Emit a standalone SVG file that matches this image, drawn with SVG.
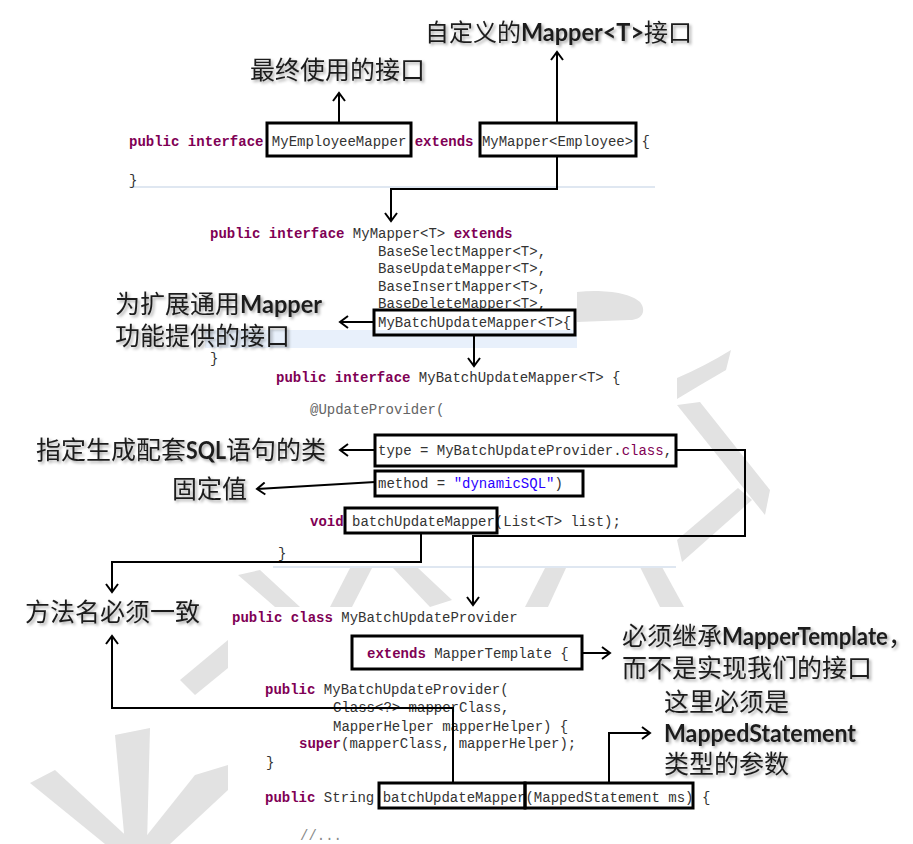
<svg xmlns="http://www.w3.org/2000/svg" width="913" height="844" viewBox="0 0 913 844">
<defs>
<style>
.code{font-family:"Liberation Mono","DejaVu Sans Mono",monospace;font-size:14px;fill:#333;}
.kw{fill:#7f0055;font-weight:bold;}
.str{fill:#2a00ff;}
.ann{fill:#646464;}
.cmt{fill:#8a8a8a;}
.lbl{font-family:"Noto Sans CJK SC","Noto Sans",sans-serif;font-size:25px;fill:#1e1e1e;filter:url(#sh);}
.lat{font-family:Lato,"Open Sans",sans-serif;font-weight:bold;}
.box{fill:none;stroke:#000;stroke-width:3;}
.con{fill:none;stroke:#000;stroke-width:2;marker-end:url(#ah);}
.wm{fill:#e2e2e2;}
.panel{fill:#fff;}
.sep{stroke:#dfe7f1;stroke-width:2;}
</style>
<filter id="sh" x="-10%" y="-30%" width="130%" height="170%">
<feDropShadow dx="2" dy="2" stdDeviation="1.5" flood-color="#000" flood-opacity="0.35"/>
</filter>
<marker id="ah" viewBox="-10 -7 12 14" markerWidth="12" markerHeight="14" refX="0" refY="0" orient="auto" markerUnits="userSpaceOnUse">
<path d="M-8,-6 L0,0 L-8,6" fill="none" stroke="#000" stroke-width="2"/>
</marker>
</defs>
<rect width="913" height="844" fill="#fff"/>

<g id="watermark">
<path class="wm" d="M577,292 C600,289 630,292 640,302 C647,311 642,320 630,320 L577,322 Z"/>
<path class="wm" d="M731,350 L726,370 Q700,385 677,399 L677,378 Q705,366 731,350 Z"/>
<polygon class="wm" points="677,405 700,402 770,490 765,515"/>
<polygon class="wm" points="738,488 752,500 682,562 677,540"/>
<polygon class="wm" points="640,567 662,567 684,607 660,607"/>
<polygon class="wm" points="525,607 548,607 566,568 545,568"/>
<polygon class="wm" points="393,568 418,568 452,600 430,607"/>
<polygon class="wm" points="330,607 352,607 372,568 350,568"/>
<polygon class="wm" points="238,575 260,570 300,607 275,607"/>
<polygon class="wm" points="180,680 228,640 228,668 195,695"/>
<polygon class="wm" points="30,783 55,770 135,844 105,844"/>
<polygon class="wm" points="115,735 150,728 147,844 125,844"/>
<polygon class="wm" points="195,775 228,765 228,790 170,844 140,844"/>
</g>

<g id="panels">
<rect class="panel" x="120" y="120" width="540" height="70"/>
<rect class="panel" x="205" y="222" width="372" height="143"/>
<rect x="205" y="330" width="372" height="18" fill="#e8f0fb"/>
<rect class="panel" x="273" y="365" width="404" height="202"/>
<rect class="panel" x="228" y="607" width="492" height="237"/>
<line class="sep" x1="129" y1="187" x2="655" y2="187"/>
<line class="sep" x1="273" y1="567" x2="676" y2="567"/>
</g>

<g id="code-employee-mapper">
<text class="code" x="129" y="146" xml:space="preserve"><tspan class="kw">public</tspan> <tspan class="kw">interface</tspan> MyEmployeeMapper <tspan class="kw">extends</tspan> MyMapper&lt;Employee&gt; {</text>
<text class="code" x="129" y="185">}</text>
<rect class="box" x="267" y="123" width="144" height="33"/>
<rect class="box" x="480" y="123" width="156" height="33"/>
</g>

<g id="code-my-mapper">
<text class="code" x="210" y="238" xml:space="preserve"><tspan class="kw">public</tspan> <tspan class="kw">interface</tspan> MyMapper&lt;T&gt; <tspan class="kw">extends</tspan></text>
<text class="code" x="378" y="256">BaseSelectMapper&lt;T&gt;,</text>
<text class="code" x="378" y="273">BaseUpdateMapper&lt;T&gt;,</text>
<text class="code" x="378" y="291">BaseInsertMapper&lt;T&gt;,</text>
<text class="code" x="378" y="308">BaseDeleteMapper&lt;T&gt;,</text>
<text class="code" x="378" y="327">MyBatchUpdateMapper&lt;T&gt;{</text>
<text class="code" x="210" y="363">}</text>
<rect class="box" x="374" y="310" width="201" height="25"/>
</g>

<g id="code-batch-update-mapper">
<text class="code" x="276" y="382" xml:space="preserve"><tspan class="kw">public</tspan> <tspan class="kw">interface</tspan> MyBatchUpdateMapper&lt;T&gt; {</text>
<text class="code ann" x="310" y="414">@UpdateProvider(</text>
<text class="code" x="378" y="455" xml:space="preserve">type = MyBatchUpdateProvider.<tspan class="kw" style="font-weight:normal">class</tspan>,</text>
<text class="code" x="378" y="488" xml:space="preserve">method = <tspan class="str">"dynamicSQL"</tspan>)</text>
<text class="code" x="310" y="526" xml:space="preserve"><tspan class="kw">void</tspan> batchUpdateMapper(List&lt;T&gt; list);</text>
<text class="code" x="278" y="558">}</text>
<rect class="box" x="375" y="435" width="301" height="31"/>
<rect class="box" x="375" y="471" width="208" height="25"/>
<rect class="box" x="345" y="508" width="152" height="25"/>
</g>

<g id="code-batch-update-provider">
<text class="code" x="232" y="622" xml:space="preserve"><tspan class="kw">public</tspan> <tspan class="kw">class</tspan> MyBatchUpdateProvider</text>
<text class="code" x="367" y="658" xml:space="preserve"><tspan class="kw">extends</tspan> MapperTemplate {</text>
<text class="code" x="265" y="694" xml:space="preserve"><tspan class="kw">public</tspan> MyBatchUpdateProvider(</text>
<text class="code" x="333" y="712">Class&lt;?&gt; mapperClass,</text>
<text class="code" x="333" y="731">MapperHelper mapperHelper) {</text>
<text class="code" x="299" y="748" xml:space="preserve"><tspan class="kw">super</tspan>(mapperClass, mapperHelper);</text>
<text class="code" x="266" y="767">}</text>
<text class="code" x="265" y="802" xml:space="preserve"><tspan class="kw">public</tspan> String batchUpdateMapper(MappedStatement ms) {</text>
<text class="code cmt" x="300" y="840">//...</text>
<rect class="box" x="352" y="636" width="230" height="33"/>
<rect class="box" x="379" y="783" width="146" height="25"/>
<rect class="box" x="525" y="783" width="168" height="25"/>
</g>

<g id="label-custom-mapper">
<text class="lbl" x="425" y="41" style="font-size:24px">自定义的<tspan class="lat" x="521" textLength="123" lengthAdjust="spacingAndGlyphs">Mapper&lt;T&gt;</tspan><tspan x="644">接口</tspan></text>
</g>
<g id="label-final-interface">
<text class="lbl" x="250" y="79">最终使用的接口</text>
</g>
<g id="label-extension-interface">
<text class="lbl" x="115" y="313">为扩展通用<tspan class="lat" x="240" textLength="82" lengthAdjust="spacingAndGlyphs">Mapper</tspan></text>
<text class="lbl" x="115" y="345">功能提供的接口</text>
</g>
<g id="label-sql-class">
<text class="lbl" x="36" y="459">指定生成配套<tspan class="lat" x="186" textLength="40" lengthAdjust="spacingAndGlyphs">SQL</tspan><tspan x="226">语句的类</tspan></text>
</g>
<g id="label-fixed-value">
<text class="lbl" x="172" y="498">固定值</text>
</g>
<g id="label-method-name">
<text class="lbl" x="25" y="621">方法名必须一致</text>
</g>
<g id="label-mapper-template">
<text class="lbl" x="622" y="645">必须继承<tspan class="lat" x="722" textLength="166" lengthAdjust="spacingAndGlyphs">MapperTemplate</tspan><tspan x="888">，</tspan></text>
<text class="lbl" x="622" y="677">而不是实现我们的接口</text>
</g>
<g id="label-mapped-statement">
<text class="lbl" x="664" y="711">这里必须是</text>
<text class="lbl lat" x="664" y="742" textLength="192" lengthAdjust="spacingAndGlyphs">MappedStatement</text>
<text class="lbl" x="664" y="773">类型的参数</text>
</g>

<g id="connectors">
<path class="con" d="M339,123 V93"/>
<path class="con" d="M557,123 V52"/>
<path class="con" d="M557,156 V189 H391 V221"/>
<path class="con" d="M374,322 H340"/>
<path class="con" d="M474,335 V366"/>
<path class="con" d="M375,450 H340"/>
<path class="con" d="M375,482 L257,489"/>
<path class="con" d="M677,450 H745 V536 H473 V605"/>
<path class="con" d="M421,533 V562 H112 V592"/>
<path class="con" d="M453,783 V708 H112 V636"/>
<path class="con" d="M582,653 H610"/>
<path class="con" d="M609,783 V733 H650"/>
</g>
</svg>
